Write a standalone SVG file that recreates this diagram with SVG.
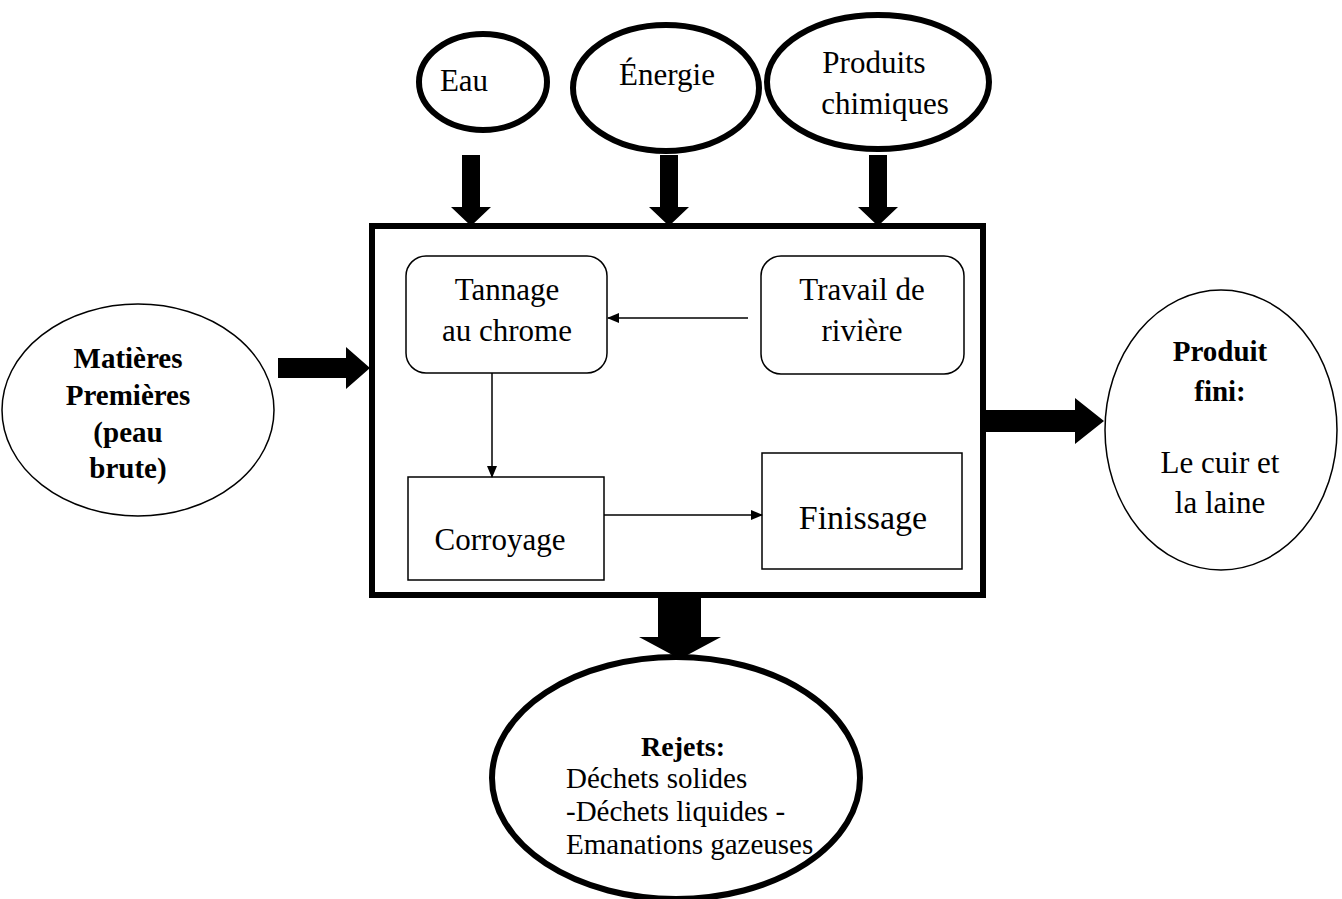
<svg xmlns="http://www.w3.org/2000/svg" width="1342" height="899" viewBox="0 0 1342 899">
<style>
text{font-family:"Liberation Serif","DejaVu Serif",serif;font-size:31px;fill:#000;text-anchor:middle}
.b{font-weight:bold;font-size:29px}
.r{font-size:29px}
.l{text-anchor:start}
.thick{fill:#fff;stroke:#000;stroke-width:6}
.thin{fill:#fff;stroke:#000;stroke-width:1.5}
.box{fill:#fff;stroke:#000;stroke-width:1.5}
.fat{fill:#000}
.con{stroke:#000;stroke-width:1.5;fill:none}
</style>
<defs>
<marker id="ah" markerWidth="12" markerHeight="10" refX="11" refY="5" orient="auto" markerUnits="userSpaceOnUse">
<path d="M0,0 L12,5 L0,10 Z" fill="#000"/>
</marker>
</defs>
<rect width="1342" height="899" fill="#fff"/>
<g id="process">
<rect x="372" y="226" width="611" height="369" fill="#fff" stroke="#000" stroke-width="6"/>
</g>
<g id="eau"><ellipse class="thick" cx="483" cy="82" rx="64" ry="48"/><text x="464" y="91">Eau</text></g>
<g id="energie"><ellipse class="thick" cx="666" cy="88" rx="93" ry="63"/><text x="667" y="85">Énergie</text></g>
<g id="chimiques"><ellipse class="thick" cx="878" cy="82" rx="111" ry="67"/><text x="874" y="73">Produits</text><text x="885" y="114">chimiques</text></g>
<g id="matieres"><ellipse class="thin" cx="138" cy="410" rx="136" ry="106"/>
<text class="b" x="128" y="368">Matières</text><text class="b" x="128" y="405">Premières</text><text class="b" x="128" y="442">(peau</text><text class="b" x="128" y="478">brute)</text></g>
<g id="produit"><ellipse class="thin" cx="1221" cy="430" rx="116" ry="140"/>
<text class="b" x="1220" y="361">Produit</text><text class="b" x="1220" y="401">fini:</text><text x="1220" y="473">Le cuir et</text><text x="1220" y="513">la laine</text></g>
<g id="rejets"><ellipse class="thick" cx="676" cy="778" rx="184" ry="121"/>
<text class="b" x="683" y="756" style="font-size:28px">Rejets:</text><text class="l r" x="566" y="788">Déchets solides</text><text class="l r" x="566" y="821">-Déchets liquides -</text><text class="l r" x="566" y="854">Emanations gazeuses</text></g>
<g id="tannage"><rect class="box" x="406" y="256" width="201" height="117" rx="20"/><text x="507" y="300">Tannage</text><text x="507" y="341">au chrome</text></g>
<g id="travail"><rect class="box" x="761" y="256" width="203" height="118" rx="20"/><text x="862" y="300">Travail de</text><text x="862" y="341">rivière</text></g>
<g id="corroyage"><rect class="box" x="408" y="477" width="196" height="103"/><text x="500" y="550">Corroyage</text></g>
<g id="finissage"><rect class="box" x="762" y="453" width="200" height="116"/><text x="863" y="529" style="font-size:34px">Finissage</text></g>
<g id="connectors">
<path class="fat" d="M462,155 H480 V207 H491 L471,226 L451,207 H462 Z"/>
<path class="fat" d="M660,155 H678 V207 H689 L669,226 L649,207 H660 Z"/>
<path class="fat" d="M869,155 H887 V207 H898 L878,226 L858,207 H869 Z"/>
<path class="fat" d="M278,358 H346 V347 L370,368 L346,389 V378 H278 Z"/>
<path class="fat" d="M986,410 H1075 V398 L1104,421 L1075,444 V432 H986 Z"/>
<path class="fat" d="M658,596 H701 V637 H721 L680,659 L639,637 H658 Z"/>
<line class="con" x1="748" y1="318" x2="608" y2="318" marker-end="url(#ah)"/>
<line class="con" x1="492" y1="373" x2="492" y2="477" marker-end="url(#ah)"/>
<line class="con" x1="604" y1="515" x2="762" y2="515" marker-end="url(#ah)"/>
</g>
</svg>
